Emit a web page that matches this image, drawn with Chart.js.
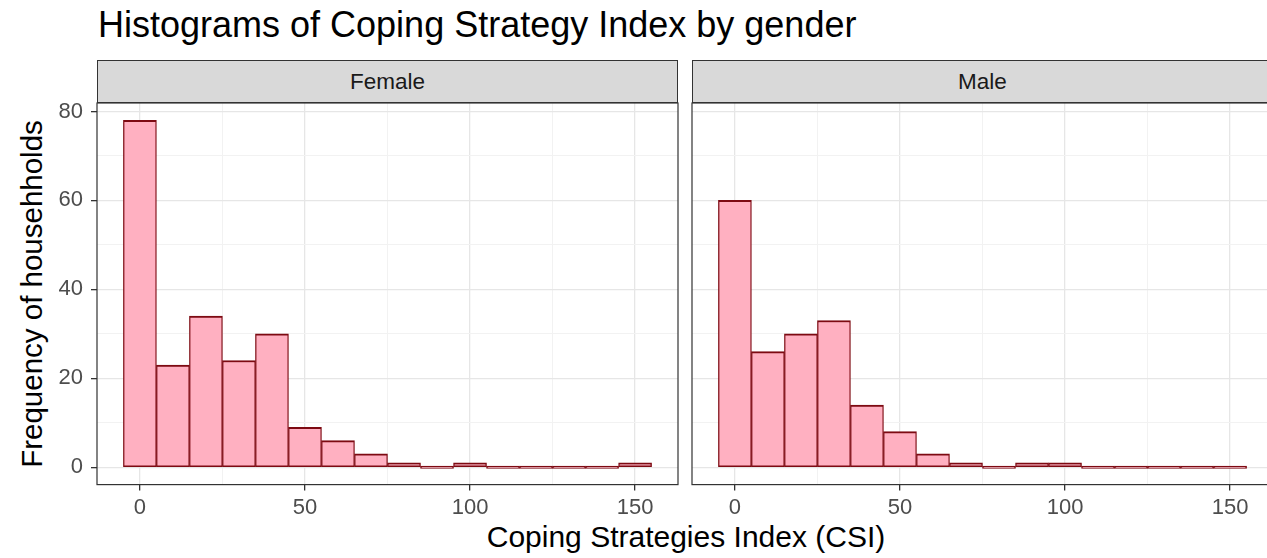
<!DOCTYPE html>
<html>
<head>
<meta charset="utf-8">
<title>Histograms of Coping Strategy Index by gender</title>
<script src="https://cdn.jsdelivr.net/npm/chart.js@4.4.1/dist/chart.umd.min.js"></script>
<style>
  html, body { margin: 0; padding: 0; background: #fff; }
  body { width: 1267px; height: 558px; position: relative; overflow: hidden; font-family: "Liberation Sans", Arial, sans-serif; }
  canvas { position: absolute; top: 0; }
  #femaleCanvas { left: 0; }
  #maleCanvas { left: 680px; }
  .title { position: absolute; left: 98px; top: 7px; font-size: 36px; line-height: 1; color: #000; white-space: nowrap; }
  .strip { position: absolute; top: 60px; height: 43px; width: 581px; box-sizing: border-box; background: #d9d9d9; border: 1.2px solid #333; color: #1a1a1a; font-size: 22.5px; line-height: 41px; text-align: center; }
  .xtitle { position: absolute; left: 686px; top: 522px; transform: translateX(-50%); font-size: 30px; line-height: 1; white-space: nowrap; color: #000; }
  .ytitle { position: absolute; left: 32px; top: 294px; transform: translate(-50%, -50%) rotate(-90deg); font-size: 29.5px; line-height: 1; white-space: nowrap; color: #000; }
</style>
</head>
<body>
<div class="title">Histograms of Coping Strategy Index by gender</div>
<div class="strip" style="left:97px">Female</div>
<div class="strip" style="left:692px">Male</div>
<div class="ytitle">Frequency of househholds</div>
<div class="xtitle">Coping Strategies Index (CSI)</div>
<canvas id="femaleCanvas" width="680" height="558"></canvas>
<canvas id="maleCanvas" width="600" height="558"></canvas>
<script>
// bin centres (binwidth 10) and counts per panel
const binCenters = [0, 10, 20, 30, 40, 50, 60, 70, 80, 90, 100, 110, 120, 130, 140, 150];
const femaleCounts = [78, 23, 34, 24, 30, 9, 6, 3, 1, 0, 1, 0, 0, 0, 0, 1];
const maleCounts = [60, 26, 30, 33, 14, 8, 3, 1, 0, 1, 1, 0, 0, 0, 0, 0];

const xTicks = [0, 50, 100, 150];
const xMinorTicks = [25, 75, 125];
const yTicks = [0, 20, 40, 60, 80];
const yMinorTicks = [10, 30, 50, 70];

const FONT = "'Liberation Sans', Arial, sans-serif";

// panel border drawn on top, like theme_bw
const panelBorder = {
  id: "panelBorder",
  afterDraw(chart) {
    const { ctx, chartArea: a } = chart;
    ctx.save();
    ctx.strokeStyle = "#333333";
    ctx.lineWidth = 1.2;
    ctx.strokeRect(a.left, a.top, a.right - a.left, a.bottom - a.top);
    ctx.restore();
  },
};

function allTicks(major, minor) {
  return major.concat(minor).sort((a, b) => a - b).map((v) => ({ value: v }));
}

function createPanel(canvasId, counts, showYLabels, yWidth, padRight) {
  const canvas = document.getElementById(canvasId);
  const ctx = canvas.getContext("2d");

  return new Chart(ctx, {
    type: "bar",
    data: {
      datasets: [
        {
          data: binCenters.map((c, i) => ({ x: c, y: counts[i] })),
          backgroundColor: "#ffb0c1",
          borderColor: "#7d0a12",
          borderWidth: { top: 2, left: 1.3, right: 1.3, bottom: 1.5 },
          borderSkipped: false,
          minBarLength: 2.5,
          barPercentage: 1,
          categoryPercentage: 1,
        },
      ],
    },
    options: {
      responsive: false,
      animation: false,
      devicePixelRatio: 1,
      layout: { padding: { top: 103, right: padRight, left: 0, bottom: 0 } },
      plugins: { legend: { display: false }, tooltip: { enabled: false } },
      scales: {
        x: {
          type: "linear",
          offset: false,
          min: -13,
          max: 163,
          bounds: "data",
          afterBuildTicks: (scale) => { scale.ticks = allTicks(xTicks, xMinorTicks); },
          afterFit: (scale) => { scale.height = 73.4; },
          border: { display: false },
          grid: {
            offset: false,
            color: (c) => (xTicks.includes(c.tick && c.tick.value) ? "#e6e6e6" : "#f2f2f2"),
            lineWidth: (c) => (xTicks.includes(c.tick && c.tick.value) ? 1.3 : 1),
            tickColor: (c) => (xTicks.includes(c.tick && c.tick.value) ? "#333333" : "rgba(0,0,0,0)"),
            tickLength: 6,
            tickWidth: 1.3,
          },
          ticks: {
            autoSkip: false,
            maxRotation: 0,
            padding: 4,
            color: "#4d4d4d",
            font: { family: FONT, size: 22 },
            callback: (v) => (xTicks.includes(v) ? String(v) : ""),
          },
        },
        y: {
          min: -3.9,
          max: 81.9,
          bounds: "data",
          afterBuildTicks: (scale) => { scale.ticks = allTicks(yTicks, yMinorTicks); },
          afterFit: (scale) => { scale.width = yWidth; },
          border: { display: false },
          grid: {
            color: (c) => (yTicks.includes(c.tick && c.tick.value) ? "#e6e6e6" : "#f2f2f2"),
            lineWidth: (c) => (yTicks.includes(c.tick && c.tick.value) ? 1.3 : 1),
            tickColor: (c) => (showYLabels && yTicks.includes(c.tick && c.tick.value) ? "#333333" : "rgba(0,0,0,0)"),
            tickLength: showYLabels ? 6 : 0,
            tickWidth: 1.3,
          },
          ticks: {
            display: showYLabels,
            autoSkip: false,
            padding: 8,
            color: "#4d4d4d",
            font: { family: FONT, size: 22 },
            callback: (v) => (yTicks.includes(v) ? String(v) : ""),
          },
        },
      },
    },
    plugins: [panelBorder],
  });
}

createPanel("femaleCanvas", femaleCounts, true, 97, 2);
createPanel("maleCanvas", maleCounts, false, 12, 7);
</script>
</body>
</html>
